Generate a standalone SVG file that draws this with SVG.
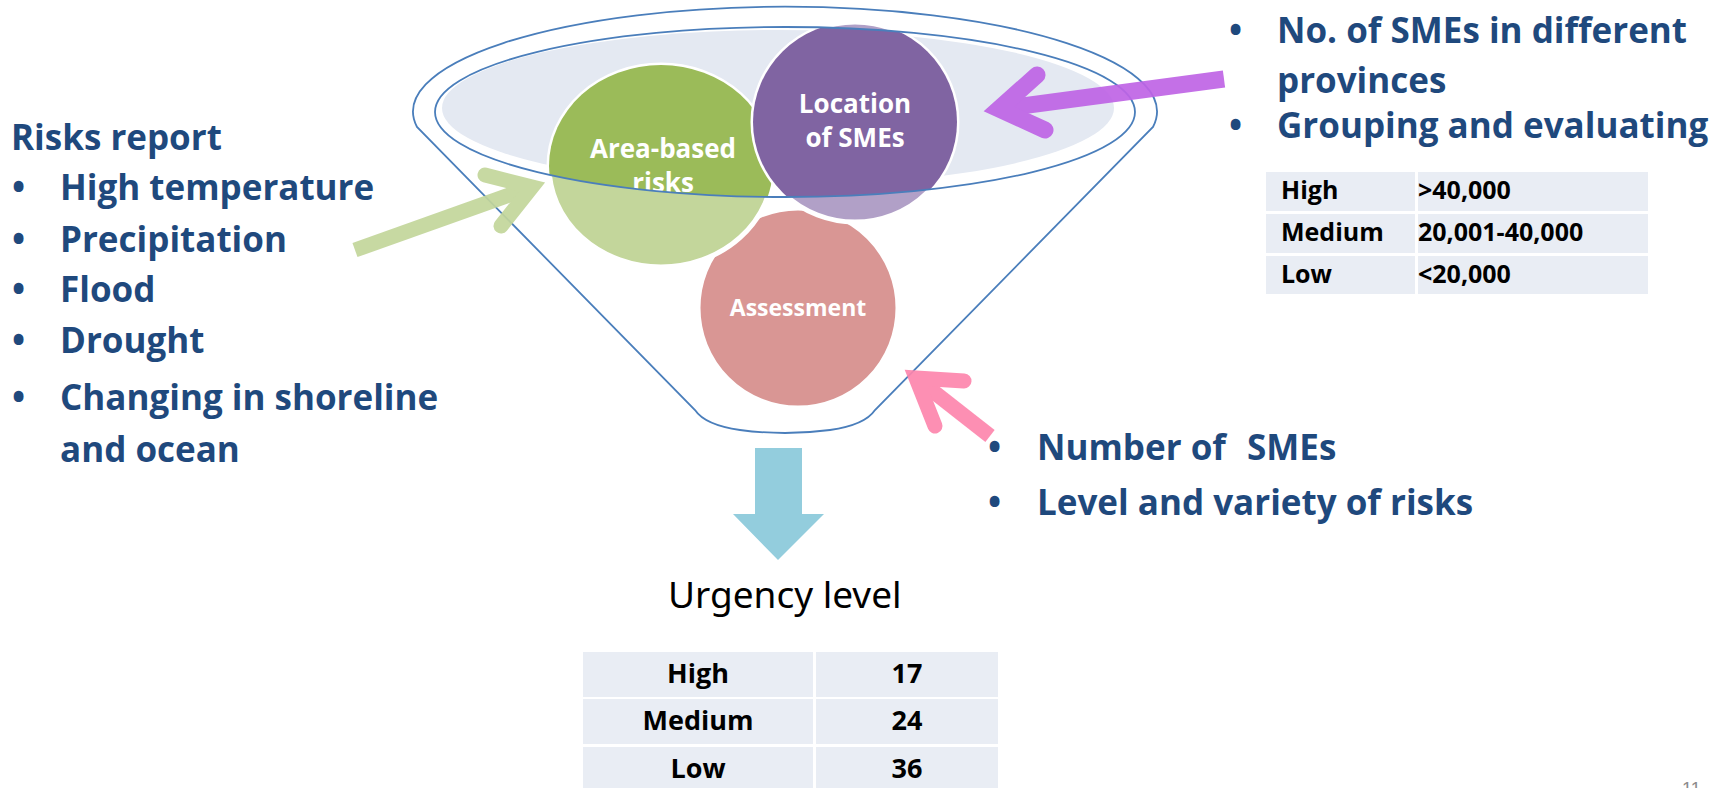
<svg xmlns="http://www.w3.org/2000/svg" width="1730" height="788" viewBox="0 0 1730 788">
<style>
.t{font-family:"Open Sans","Liberation Sans",sans-serif;font-weight:700;font-size:35px;fill:#1F497D}
.w{font-family:"Open Sans","Liberation Sans",sans-serif;font-weight:700;fill:#FFFFFF;text-anchor:middle}
.tb{font-family:"Open Sans","Liberation Sans",sans-serif;font-weight:700;fill:#000000}
.cell{fill:#E9EDF4}
.rim{fill:none;stroke:#4A7EBB;stroke-width:1.8}
.circ{stroke:#FFFFFF;stroke-width:5}
</style>
<defs>
<clipPath id="mouth"><ellipse cx="785" cy="112" rx="350" ry="85"/></clipPath>
</defs>
<rect width="1730" height="788" fill="#FFFFFF"/>

<g id="funnel">
<path class="rim" d="M417,127 A372,105 0 1 1 1153,127 L875,410 Q865,425 830,430 Q785,436 740,430 Q705,425 695,410 Z"/>
<ellipse cx="778" cy="108" rx="336" ry="78" fill="#E4E9F2"/>
</g>

<g id="assessment">
<ellipse class="circ" cx="798" cy="308" rx="100" ry="100" fill="#D99694"/>
<text class="w" x="798" y="316" font-size="23">Assessment</text>
</g>

<g id="area-based-risks">
<ellipse class="circ" cx="661" cy="166" rx="112" ry="101" fill="#C3D69B"/>
<ellipse cx="661" cy="166" rx="112" ry="101" fill="#9BBB59" clip-path="url(#mouth)"/>
<g clip-path="url(#mouth)">
<text class="w" x="663" y="158" font-size="26">Area-based</text>
<text class="w" x="663" y="192" font-size="26">risks</text>
</g>
</g>

<g id="location-of-smes">
<ellipse class="circ" cx="855" cy="122" rx="102" ry="100" fill="#B1A0C7"/>
<ellipse cx="855" cy="122" rx="102" ry="100" fill="#8064A2" clip-path="url(#mouth)"/>
<text class="w" x="855" y="113" font-size="26">Location</text>
<text class="w" x="855" y="147" font-size="26">of SMEs</text>
</g>

<g id="rim-inner">
<ellipse class="rim" cx="785" cy="112" rx="350" ry="85"/>
</g>

<g id="connectors">
<g fill="none" stroke="#C3D69B" opacity="0.92">
<path d="M355,250 L532,187" stroke-width="15" stroke-linecap="butt"/>
<path d="M485,175 L532,187 L501,226" stroke-width="15" stroke-linecap="round" stroke-linejoin="miter"/>
</g>
<g fill="none" stroke="#BF64E6" opacity="0.92">
<path d="M1224,79 L999,109" stroke-width="17" stroke-linecap="butt"/>
<path d="M1037,75 L999,109 L1045,130" stroke-width="17" stroke-linecap="round" stroke-linejoin="miter"/>
</g>
<g fill="none" stroke="#FD86AD" opacity="0.92">
<path d="M990,436 L916,378" stroke-width="15" stroke-linecap="butt"/>
<path d="M964,381 L916,378 L935,426" stroke-width="15" stroke-linecap="round" stroke-linejoin="miter"/>
</g>
<polygon points="755,448 802,448 802,514 824,514 778,560 733,514 755,514" fill="#93CDDD"/>
</g>

<g id="risks-report">
<text class="t" x="11" y="150">Risks report</text>
<text class="t" x="12" y="200">•</text><text class="t" x="60" y="200">High temperature</text>
<text class="t" x="12" y="252">•</text><text class="t" x="60" y="252">Precipitation</text>
<text class="t" x="12" y="302">•</text><text class="t" x="60" y="302">Flood</text>
<text class="t" x="12" y="353">•</text><text class="t" x="60" y="353">Drought</text>
<text class="t" x="12" y="410">•</text><text class="t" x="60" y="410">Changing in shoreline</text>
<text class="t" x="60" y="462">and ocean</text>
</g>

<g id="smes-provinces">
<text class="t" x="1229" y="43">•</text><text class="t" x="1277" y="43">No. of SMEs in different</text>
<text class="t" x="1277" y="93">provinces</text>
<text class="t" x="1229" y="138">•</text><text class="t" x="1277" y="138">Grouping and evaluating</text>
</g>

<g id="grouping-table">
<rect class="cell" x="1266" y="172" width="149" height="39"/>
<rect class="cell" x="1418" y="172" width="230" height="39"/>
<rect class="cell" x="1266" y="214" width="149" height="39"/>
<rect class="cell" x="1418" y="214" width="230" height="39"/>
<rect class="cell" x="1266" y="256" width="149" height="38"/>
<rect class="cell" x="1418" y="256" width="230" height="38"/>
<text class="tb" font-size="25" x="1281" y="199">High</text>
<text class="tb" font-size="25" x="1418" y="199">&gt;40,000</text>
<text class="tb" font-size="25" x="1281" y="241">Medium</text>
<text class="tb" font-size="25" x="1418" y="241">20,001-40,000</text>
<text class="tb" font-size="25" x="1281" y="283">Low</text>
<text class="tb" font-size="25" x="1418" y="283">&lt;20,000</text>
</g>

<g id="assessment-inputs">
<text class="t" x="988" y="460">•</text><text class="t" x="1037" y="460">Number of&#160;<tspan x="1247">SMEs</tspan></text>
<text class="t" x="988" y="515">•</text><text class="t" x="1037" y="515">Level and variety of risks</text>
</g>

<g id="urgency">
<text x="668" y="608" font-family="'Noto Sans','Liberation Sans',sans-serif" font-size="37" fill="#000000">Urgency level</text>
<rect class="cell" x="583" y="652" width="230" height="45"/>
<rect class="cell" x="816" y="652" width="182" height="45"/>
<rect class="cell" x="583" y="699" width="230" height="45"/>
<rect class="cell" x="816" y="699" width="182" height="45"/>
<rect class="cell" x="583" y="747" width="230" height="41"/>
<rect class="cell" x="816" y="747" width="182" height="41"/>
<g text-anchor="middle">
<text class="tb" font-size="27" x="698" y="683">High</text>
<text class="tb" font-size="27" x="907" y="683">17</text>
<text class="tb" font-size="27" x="698" y="730">Medium</text>
<text class="tb" font-size="27" x="907" y="730">24</text>
<text class="tb" font-size="27" x="698" y="778">Low</text>
<text class="tb" font-size="27" x="907" y="778">36</text>
</g>
</g>

<text x="1682" y="795" font-family="'Liberation Sans',sans-serif" font-size="18" fill="#8C8C8C">11</text>
</svg>
